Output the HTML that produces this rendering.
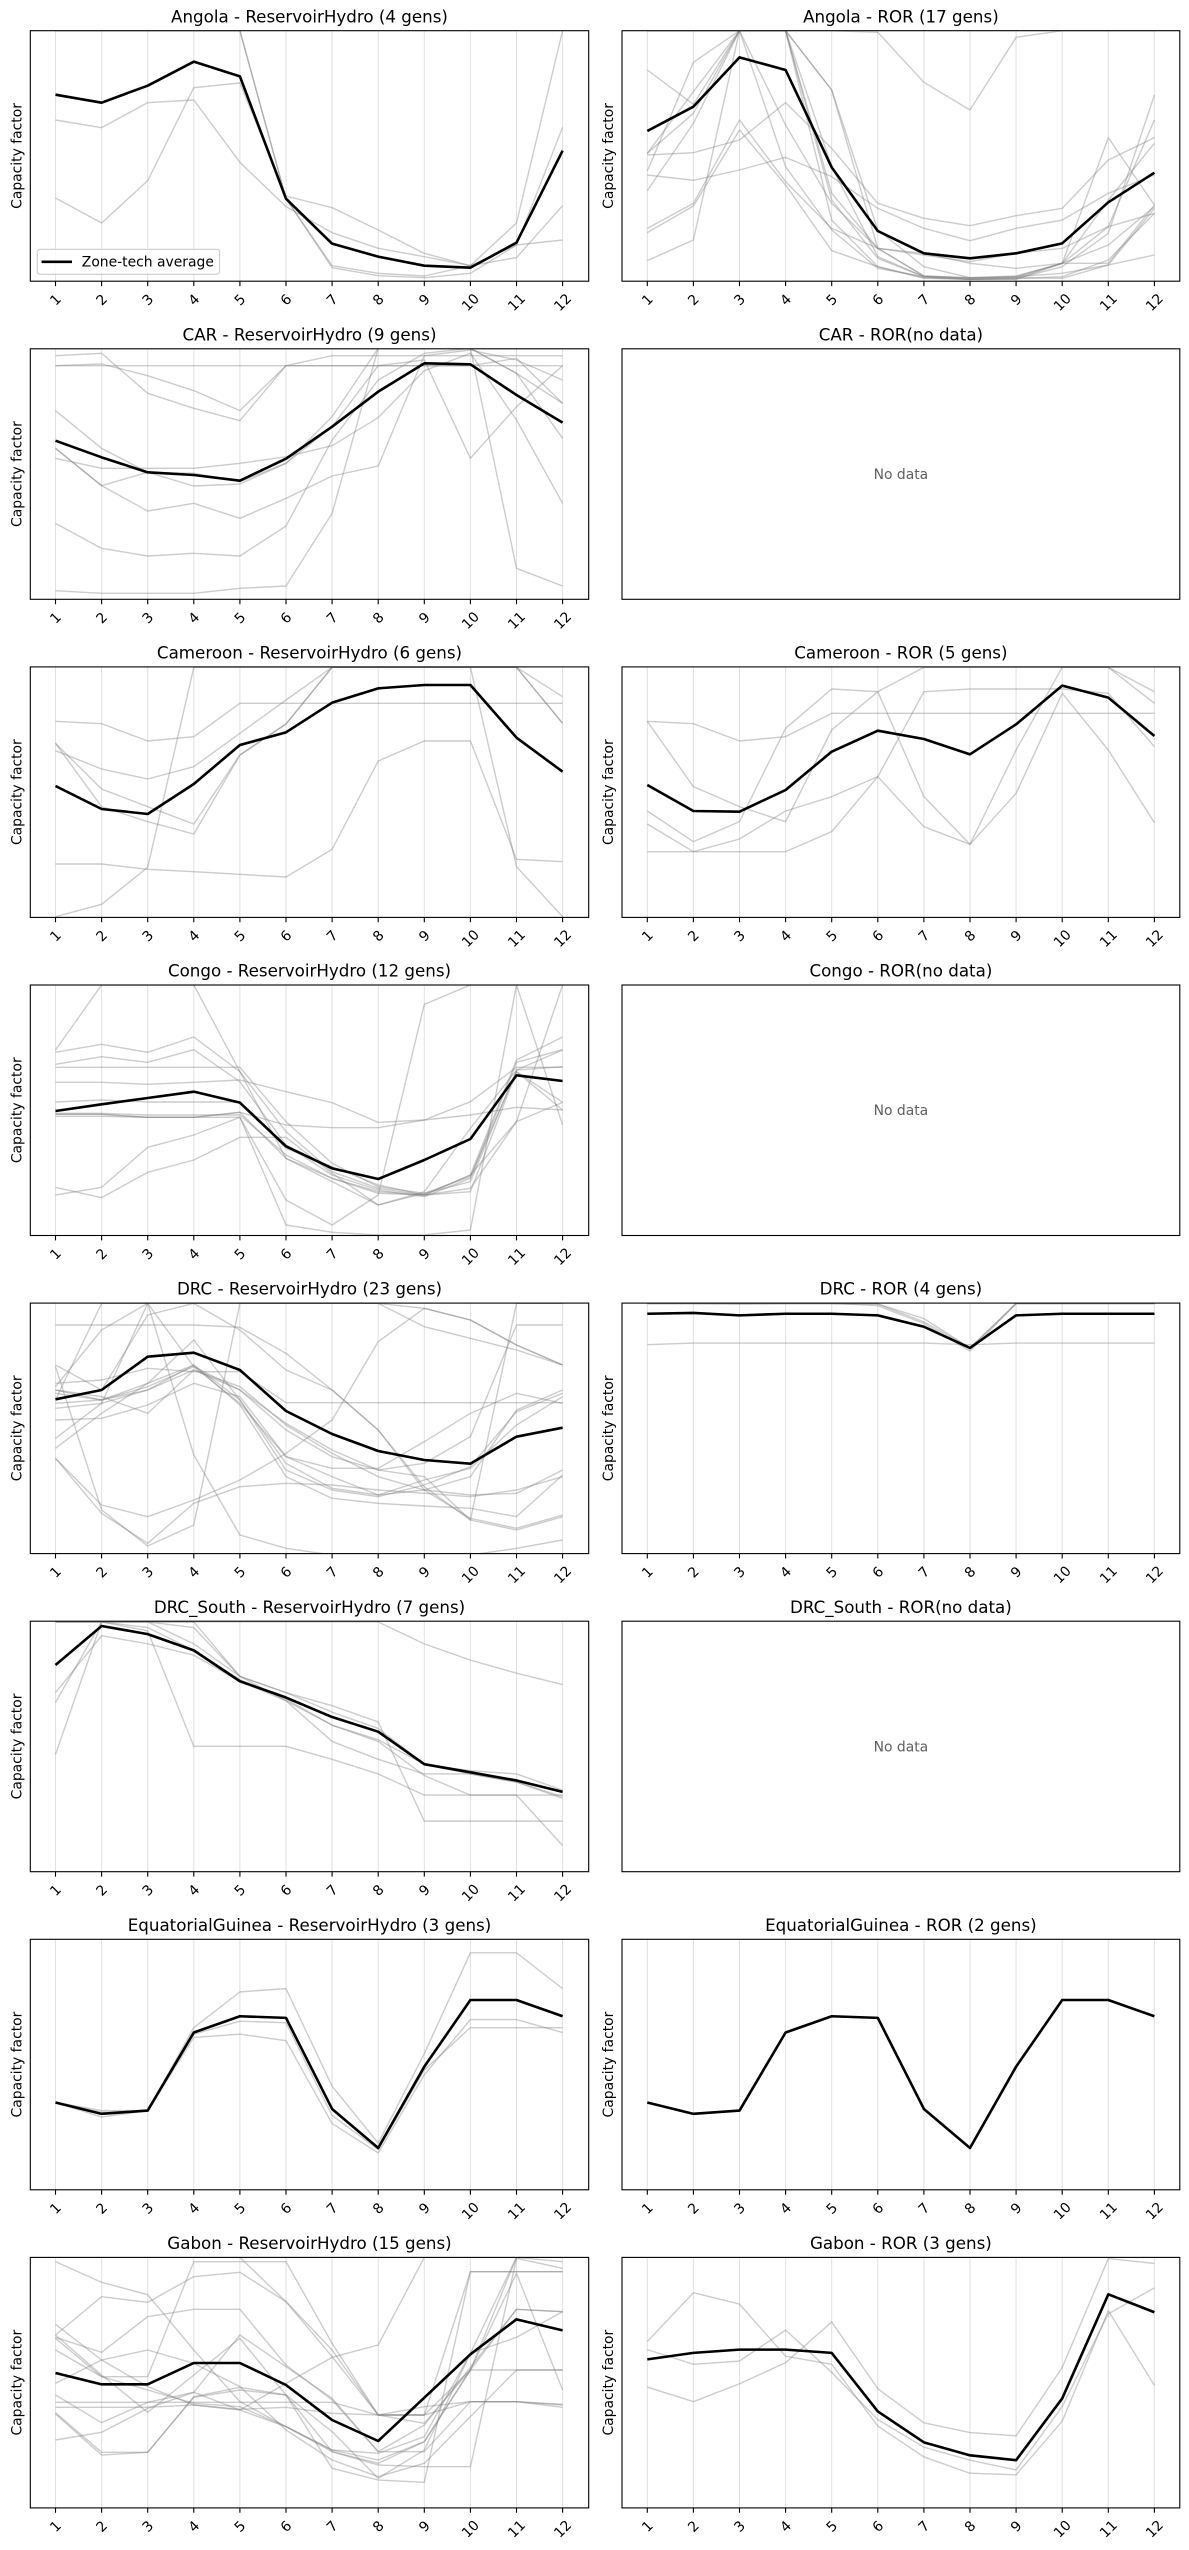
<!DOCTYPE html>
<html><head><meta charset="utf-8">
<style>
html,body{margin:0;padding:0;background:#fff}
svg{display:block}
text{font-family:"DejaVu Sans","Liberation Sans",sans-serif;fill:#000}
.t{font-size:16.7px;text-anchor:middle}
.yl{font-size:13.9px;text-anchor:middle}
.k text{font-size:13.9px;text-anchor:middle}
.nd{font-size:13.9px;text-anchor:middle;fill:#606060}
.g{fill:none;stroke:#808080;stroke-opacity:.4;stroke-width:1.4px;vector-effect:non-scaling-stroke;stroke-linejoin:round}
.b{fill:none;stroke:#000;stroke-width:2.6px;vector-effect:non-scaling-stroke;stroke-linejoin:round}
.ax{fill:none;stroke:#000;stroke-width:1.1px}
.gr{fill:none;stroke:#b0b0b0;stroke-opacity:.38;stroke-width:1px}
.tk{fill:none;stroke:#000;stroke-width:1.1px}
</style></head><body>
<svg width="1189" height="2550" viewBox="0 0 1189 2550" xmlns="http://www.w3.org/2000/svg">
<defs>
<path id="grid" class="gr" d="M0 0v250.5m46.1 -250.5v250.5m46.1 -250.5v250.5m46.1 -250.5v250.5m46.1 -250.5v250.5m46.1 -250.5v250.5m46.1 -250.5v250.5m46.1 -250.5v250.5m46.1 -250.5v250.5m46.1 -250.5v250.5m46.1 -250.5v250.5m46.1 -250.5v250.5"/>
<path id="tick" class="tk" d="M0 0v4.9m46.1 -4.9v4.9m46.1 -4.9v4.9m46.1 -4.9v4.9m46.1 -4.9v4.9m46.1 -4.9v4.9m46.1 -4.9v4.9m46.1 -4.9v4.9m46.1 -4.9v4.9m46.1 -4.9v4.9m46.1 -4.9v4.9m46.1 -4.9v4.9"/>
<clipPath id="c0l"><rect x="30.3" y="30.7" width="558.4" height="250.5"/></clipPath>
<clipPath id="c0r"><rect x="622" y="30.7" width="557.8" height="250.5"/></clipPath>
<clipPath id="c1l"><rect x="30.3" y="348.8" width="558.4" height="250.5"/></clipPath>
<clipPath id="c2l"><rect x="30.3" y="666.9" width="558.4" height="250.5"/></clipPath>
<clipPath id="c2r"><rect x="622" y="666.9" width="557.8" height="250.5"/></clipPath>
<clipPath id="c3l"><rect x="30.3" y="985" width="558.4" height="250.5"/></clipPath>
<clipPath id="c4l"><rect x="30.3" y="1303.1" width="558.4" height="250.5"/></clipPath>
<clipPath id="c4r"><rect x="622" y="1303.1" width="557.8" height="250.5"/></clipPath>
<clipPath id="c5l"><rect x="30.3" y="1621.2" width="558.4" height="250.5"/></clipPath>
<clipPath id="c6l"><rect x="30.3" y="1939.3" width="558.4" height="250.5"/></clipPath>
<clipPath id="c6r"><rect x="622" y="1939.3" width="557.8" height="250.5"/></clipPath>
<clipPath id="c7l"><rect x="30.3" y="2257.4" width="558.4" height="250.5"/></clipPath>
<clipPath id="c7r"><rect x="622" y="2257.4" width="557.8" height="250.5"/></clipPath>
</defs>

<!-- grids -->
<use href="#grid" x="55.5" y="30.7"/><use href="#grid" x="647.3" y="30.7"/>
<use href="#grid" x="55.5" y="348.8"/>
<use href="#grid" x="55.5" y="666.9"/><use href="#grid" x="647.3" y="666.9"/>
<use href="#grid" x="55.5" y="985"/>
<use href="#grid" x="55.5" y="1303.1"/><use href="#grid" x="647.3" y="1303.1"/>
<use href="#grid" x="55.5" y="1621.2"/>
<use href="#grid" x="55.5" y="1939.3"/><use href="#grid" x="647.3" y="1939.3"/>
<use href="#grid" x="55.5" y="2257.4"/><use href="#grid" x="647.3" y="2257.4"/>

<!-- Row 0 Left: Angola Reservoir -->
<g clip-path="url(#c0l)"><g transform="matrix(46.1 0 0 0.333333 9.4 0)">
<polyline class="g" points="1,360 2,383 3,308 4,300 5,487 6,620 7,698 8,745 9,770 10,797 11,773 12,617"/>
<polyline class="g" points="1,594 2,669 3,542 4,263 5,249 6,588 7,623 8,690 9,760 10,797 11,735 12,382"/>
<polyline class="g" points="1,92 2,92 3,92 4,92 5,92 6,596 7,797 8,820 9,828 10,797 11,669 12,92"/>
<polyline class="g" points="1,92 2,92 3,92 4,92 5,92 6,596 7,803 8,827 9,833 10,820 11,735 12,720"/>
<polyline class="b" points="1,284 2,308 3,257 4,185 5,229 6,596 7,731 8,770 9,797 10,803 11,728 12,452"/>
</g></g>

<!-- Row 0 Right: Angola ROR -->
<g clip-path="url(#c0r)"><g transform="matrix(46.1 0 0 0.333333 601.2 0)">
<polyline class="g" points="1,210 2,313 3,92 4,92 5,270 6,745 7,828 8,833 9,828 10,790 11,413 12,615"/>
<polyline class="g" points="1,460 2,275 3,92 4,92 5,270 6,690 7,800 8,833 9,833 10,790 11,790 12,615"/>
<polyline class="g" points="1,465 2,458 3,420 4,308 5,445 6,610 7,655 8,677 9,647 10,625 11,480 12,413"/>
<polyline class="g" points="1,525 2,541 3,510 4,472 5,530 6,625 7,685 8,722 9,685 10,660 11,580 12,525"/>
<polyline class="g" points="1,572 2,370 3,92 4,375 5,610 6,745 7,760 8,790 9,805 10,790 11,735 12,620"/>
<polyline class="g" points="1,513 2,187 3,92 4,500 5,690 6,805 7,830 8,833 9,830 10,820 11,795 12,625"/>
<polyline class="g" points="1,685 2,610 3,360 4,545 5,685 6,745 7,765 8,785 9,760 10,745 11,680 12,360"/>
<polyline class="g" points="1,698 2,618 3,390 4,555 5,752 6,800 7,835 8,838 9,836 10,830 11,780 12,640"/>
<polyline class="g" points="1,782 2,720 3,92 4,92 5,600 6,775 7,830 8,838 9,833 10,835 11,795 12,765"/>
<polyline class="g" points="1,92 2,92 3,92 4,92 5,92 6,97 7,247 8,330 9,112 10,92 11,92 12,92"/>
<polyline class="g" points="1,92 2,92 3,92 4,92 5,660 6,800 7,833 8,838 9,836 10,800 11,700 12,285"/>
<polyline class="g" points="1,460 2,340 3,92 4,92 5,580 6,745 7,828 8,835 9,830 10,790 11,600 12,430"/>
<polyline class="g" points="1,92 2,92 3,92 4,92 5,500 6,770 7,830 8,838 9,838 10,790 11,680 12,640"/>
<polyline class="b" points="1,393 2,320 3,172 4,210 5,502 6,693 7,760 8,775 9,760 10,730 11,607 12,518"/>
</g></g>

<!-- Row 1 Left: CAR Reservoir -->
<g clip-path="url(#c1l)"><g transform="matrix(46.1 0 0 0.333333 9.4 340)">
<polyline class="g" points="1,77 2,72 3,107 4,152 5,212 6,77 7,77 8,77 9,77 10,77 11,77 12,77"/>
<polyline class="g" points="1,47 2,40 3,160 4,205 5,242 6,77 7,47 8,47 9,47 10,47 11,47 12,47"/>
<polyline class="g" points="1,212 2,325 3,397 4,438 5,432 6,370 7,230 8,25 9,25 10,25 11,100 12,190"/>
<polyline class="g" points="1,325 2,437 3,513 4,490 5,535 6,475 7,408 8,378 9,47 10,30 11,60 12,120"/>
<polyline class="g" points="1,355 2,385 3,385 4,385 5,370 6,350 7,317 8,233 9,92 10,40 11,240 12,490"/>
<polyline class="g" points="1,550 2,625 3,648 4,640 5,648 6,558 7,300 8,120 9,40 10,25 11,100 12,295"/>
<polyline class="g" points="1,752 2,760 3,760 4,760 5,745 6,738 7,520 8,25 9,25 10,25 11,685 12,738"/>
<polyline class="g" points="1,325 2,437 3,397 4,400 5,425 6,370 7,260 8,77 9,60 10,355 11,200 12,77"/>
<polyline class="g" points="1,77 2,77 3,77 4,77 5,77 6,77 7,77 8,77 9,77 10,77 11,55 12,190"/>
<polyline class="b" points="1,302 2,352 3,397 4,405 5,422 6,356 7,260 8,155 9,70 10,73 11,165 12,248"/>
</g></g>

<!-- Row 2 Left: Cameroon Reservoir -->
<g clip-path="url(#c2l)"><g transform="matrix(46.1 0 0 0.333333 9.4 660)">
<polyline class="g" points="1,184 2,191 3,243 4,230 5,130 6,130 7,130 8,130 9,130 10,130 11,130 12,130"/>
<polyline class="g" points="1,250 2,387 3,440 4,492 5,285 6,192 7,22 8,22 9,22 10,22 11,22 12,110"/>
<polyline class="g" points="1,272 2,327 3,357 4,320 5,220 6,120 7,22 8,22 9,22 10,22 11,22 12,190"/>
<polyline class="g" points="1,612 2,612 3,628 4,635 5,643 6,651 7,568 8,303 9,243 10,243 11,598 12,605"/>
<polyline class="g" points="1,770 2,733 3,622 4,22 5,22 6,22 7,22 8,22 9,22 10,22 11,620 12,770"/>
<polyline class="g" points="1,250 2,440 3,485 4,522 5,285 6,192 7,22 8,22 9,22 10,22 11,22 12,190"/>
<polyline class="b" points="1,378 2,447 3,462 4,372 5,255 6,217 7,128 8,85 9,75 10,75 11,233 12,335"/>
</g></g>

<!-- Row 2 Right: Cameroon ROR -->
<g clip-path="url(#c2r)"><g transform="matrix(46.1 0 0 0.333333 601.2 660)">
<polyline class="g" points="1,184 2,191 3,243 4,230 5,160 6,160 7,160 8,160 9,160 10,160 11,160 12,160"/>
<polyline class="g" points="1,184 2,380 3,440 4,485 5,210 6,95 7,22 8,22 9,22 10,22 11,22 12,95"/>
<polyline class="g" points="1,453 2,545 3,485 4,205 5,87 6,95 7,410 8,553 9,270 10,22 11,22 12,130"/>
<polyline class="g" points="1,492 2,575 3,537 4,453 5,410 6,350 7,500 8,553 9,400 10,100 11,270 12,488"/>
<polyline class="g" points="1,575 2,575 3,575 4,575 5,515 6,350 7,95 8,87 9,87 10,87 11,100 12,260"/>
<polyline class="b" points="1,375 2,453 3,455 4,390 5,275 6,212 7,237 8,283 9,193 10,77 11,113 12,228"/>
</g></g>

<!-- Row 3 Left: Congo Reservoir -->
<g clip-path="url(#c3l)"><g transform="matrix(46.1 0 0 0.333333 9.4 975)">
<polyline class="g" points="1,225 2,30 3,30 4,30 5,290 6,550 7,620 8,690 9,655 10,605 11,290 12,382"/>
<polyline class="g" points="1,232 2,208 3,232 4,186 5,290 6,470 7,590 8,640 9,660 10,600 11,255 12,186"/>
<polyline class="g" points="1,268 2,245 3,262 4,224 5,320 6,510 7,600 8,645 9,665 10,610 11,262 12,224"/>
<polyline class="g" points="1,277 2,277 3,277 4,277 5,277 6,440 7,565 8,635 9,655 10,620 11,285 12,275"/>
<polyline class="g" points="1,322 2,322 3,328 4,322 5,315 6,350 7,383 8,442 9,435 10,380 11,277 12,277"/>
<polyline class="g" points="1,381 2,375 3,381 4,381 5,381 6,520 7,575 8,630 9,660 10,650 11,290 12,405"/>
<polyline class="g" points="1,418 2,418 3,427 4,427 5,412 6,450 7,458 8,458 9,435 10,420 11,397 12,405"/>
<polyline class="g" points="1,424 2,424 3,427 4,427 5,427 6,675 7,750 8,660 9,88 10,30 11,30 12,30"/>
<polyline class="g" points="1,637 2,668 3,592 4,555 5,487 6,487 7,595 8,690 9,650 10,460 11,285 12,225"/>
<polyline class="g" points="1,660 2,637 3,517 4,480 5,427 6,750 7,772 8,780 9,780 10,765 11,30 12,450"/>
<polyline class="g" points="1,418 2,418 3,427 4,427 5,412 6,550 7,610 8,650 9,660 10,640 11,440 12,382"/>
<polyline class="g" points="1,415 2,415 3,420 4,420 5,420 6,540 7,610 8,655 9,660 10,600 11,440 12,30"/>
<polyline class="b" points="1,408 2,388 3,369 4,350 5,383 6,514 7,580 8,612 9,555 10,492 11,301 12,318"/>
</g></g>

<!-- Row 4 Left: DRC Reservoir -->
<g clip-path="url(#c4l)"><g transform="matrix(46.1 0 0 0.333333 9.4 1290)">
<polyline class="g" points="1,105 2,105 3,105 4,105 5,112 6,190 7,300 8,420 9,590 10,690 11,720 12,680"/>
<polyline class="g" points="1,280 2,270 3,235 4,245 5,245 6,338 7,338 8,338 9,338 10,338 11,338 12,338"/>
<polyline class="g" points="1,225 2,300 3,75 4,40 5,120 6,240 7,300 8,420 9,600 10,685 11,715 12,675"/>
<polyline class="g" points="1,445 2,340 3,40 4,495 5,735 6,775 7,795 8,795 9,795 10,795 11,775 12,750"/>
<polyline class="g" points="1,230 2,660 3,768 4,705 5,40 6,40 7,40 8,40 9,55 10,90 11,165 12,225"/>
<polyline class="g" points="1,290 2,120 3,40 4,230 5,340 6,500 7,560 8,615 9,600 10,560 11,360 12,300"/>
<polyline class="g" points="1,475 2,370 3,280 4,150 5,330 6,520 7,595 8,615 9,570 10,535 11,405 12,320"/>
<polyline class="g" points="1,355 2,340 3,300 4,225 5,330 6,540 7,600 8,620 9,585 10,530 11,365 12,310"/>
<polyline class="g" points="1,390 2,385 3,345 4,280 5,320 6,500 7,535 8,535 9,455 10,370 11,310 12,340"/>
<polyline class="g" points="1,300 2,320 3,370 4,240 5,290 6,405 7,490 8,560 9,600 10,615 11,610 12,540"/>
<polyline class="g" points="1,310 2,330 3,280 4,225 5,345 6,560 7,625 8,640 9,648 10,655 11,680 12,555"/>
<polyline class="g" points="1,330 2,40 3,40 4,40 5,40 6,40 7,40 8,40 9,110 10,145 11,180 12,225"/>
<polyline class="g" points="1,505 2,645 3,680 4,630 5,570 6,490 7,390 8,155 9,55 10,90 11,165 12,225"/>
<polyline class="g" points="1,300 2,330 3,300 4,240 5,300 6,420 7,500 8,540 9,520 10,440 11,105 12,105"/>
<polyline class="g" points="1,340 2,330 3,290 4,230 5,300 6,400 7,480 8,540 9,560 10,690 11,40 12,40"/>
<polyline class="g" points="1,505 2,670 3,760 4,640 5,590 6,580 7,585 8,600 9,610 10,620 11,600 12,560"/>
<polyline class="b" points="1,328 2,300 3,200 4,188 5,240 6,363 7,432 8,483 9,510 10,521 11,440 12,413"/>
</g></g>

<!-- Row 4 Right: DRC ROR -->
<g clip-path="url(#c4r)"><g transform="matrix(46.1 0 0 1.6262 601.2 1.4)">
<polyline class="g" points="1,826 2,825 3,825 4,825 5,825 6,825 7,825 8,826 9,825 10,825 11,825 12,825"/>
<polyline class="g" points="1,801 2,801 3,801 4,801 5,801 6,801 7,810 8,828 9,801 10,801 11,801 12,801"/>
<polyline class="g" points="1,800.6 2,800.6 3,800.6 4,800.6 5,800.6 6,801 7,812 8,828 9,800.6 10,800.6 11,800.6 12,800.6"/>
<polyline class="g" points="1,800.6 2,800.6 3,801 4,800.6 5,800.6 6,802 7,813 8,830 9,800.6 10,800.6 11,800.6 12,800.6"/>
<polyline class="b" points="1,807 2,806.5 3,808 4,807 5,807 6,808 7,815 8,828 9,808 10,807 11,807 12,807"/>
</g></g>

<!-- Row 5 Left: DRC_South Reservoir -->
<g clip-path="url(#c5l)"><g transform="matrix(46.1 0 0 1.6262 9.4 1.4)">
<polyline class="g" points="1,1078 2,996.5 3,996.5 4,1010 5,1030 6,1040 7,1052 8,1062 9,1084 10,1090 11,1095 12,1104"/>
<polyline class="g" points="1,1046 2,996.5 3,1000 4,1014 5,1032 6,1044 7,1060 8,1070 9,1091 10,1103 11,1103 12,1134"/>
<polyline class="g" points="1,996.5 2,996.5 3,1002 4,1073 5,1073 6,1073 7,1081 8,1090 9,1103 10,1103 11,1103 12,1103"/>
<polyline class="g" points="1,996.5 2,996.5 3,996.5 4,996.5 5,1030 6,1040 7,1048 8,1058 9,1119 10,1119 11,1119 12,1119"/>
<polyline class="g" points="1,996.5 2,996.5 3,996.5 4,996.5 5,996.5 6,996.5 7,996.5 8,996.5 9,1010 10,1020 11,1028 12,1035"/>
<polyline class="g" points="1,1040 2,1005 3,1010 4,1017 5,1033 6,1045 7,1060 8,1069 9,1084 10,1088 11,1090 12,1100"/>
<polyline class="g" points="1,996.5 2,996.5 3,996.5 4,1000 5,1030 6,1045 7,1070 8,1081 9,1090 10,1090 11,1095 12,1105"/>
<polyline class="b" points="1,1023 2,999 3,1004 4,1014 5,1033 6,1043 7,1055 8,1064 9,1084 10,1089 11,1094 12,1101"/>
</g></g>

<!-- Row 6 Left: EquatorialGuinea Reservoir -->
<g clip-path="url(#c6l)"><g transform="matrix(46.1 0 0 1.6262 9.4 1.4)">
<polyline class="g" points="1,1292 2,1301 3,1297 4,1246 5,1224 6,1222 7,1282 8,1317 9,1262 10,1200 11,1200 12,1222"/>
<polyline class="g" points="1,1292 2,1298 3,1297 4,1250 5,1242 6,1243 7,1300 8,1321 9,1272 10,1246 11,1246 12,1246"/>
<polyline class="g" points="1,1292 2,1297 3,1297 4,1252 5,1250 6,1254 7,1305 8,1323 9,1275 10,1241 11,1241 12,1249"/>
<polyline class="b" points="1,1292 2,1299 3,1297 4,1249 5,1239 6,1240 7,1296 8,1320 9,1270 10,1229 11,1229 12,1239"/>
</g></g>

<!-- Row 6 Right: EquatorialGuinea ROR -->
<g clip-path="url(#c6r)"><g transform="matrix(46.1 0 0 1.6262 601.2 1.4)">
<polyline class="g" points="1,1292 2,1299 3,1297 4,1249 5,1239 6,1240 7,1296 8,1320 9,1270 10,1229 11,1229 12,1239"/>
<polyline class="g" points="1,1292 2,1299 3,1297 4,1249 5,1239 6,1240 7,1296 8,1320 9,1270 10,1229 11,1229 12,1239"/>
<polyline class="b" points="1,1292 2,1299 3,1297 4,1249 5,1239 6,1240 7,1296 8,1320 9,1270 10,1229 11,1229 12,1239"/>
</g></g>

<!-- Row 7 Left: Gabon Reservoir -->
<g clip-path="url(#c7l)"><g transform="matrix(46.1 0 0 0.333333 9.4 2250)">
<polyline class="g" points="1,35 2,97 3,134 4,300 5,455 6,530 7,600 8,630 9,575 10,360 11,22 12,35"/>
<polyline class="g" points="1,255 2,140 3,157 4,80 5,67 6,155 7,300 8,495 9,495 10,360 11,360 12,360"/>
<polyline class="g" points="1,262 2,307 3,200 4,178 5,178 6,345 7,450 8,605 9,605 10,455 11,455 12,463"/>
<polyline class="g" points="1,265 2,380 3,380 4,35 5,35 6,35 7,280 8,495 9,495 10,65 11,65 12,65"/>
<polyline class="g" points="1,435 2,518 3,457 4,427 5,480 6,400 7,322 8,285 9,22 10,22 11,22 12,22"/>
<polyline class="g" points="1,457 2,457 3,457 4,457 5,457 6,457 7,457 8,495 9,495 10,455 11,455 12,465"/>
<polyline class="g" points="1,472 2,472 3,472 4,465 5,478 6,472 7,490 8,495 9,470 10,455 11,455 12,472"/>
<polyline class="g" points="1,488 2,607 3,607 4,440 5,412 6,435 7,605 8,640 9,575 10,360 11,70 12,420"/>
<polyline class="g" points="1,492 2,615 3,607 4,442 5,420 6,435 7,545 8,685 9,600 10,310 11,262 12,185"/>
<polyline class="g" points="1,570 2,547 3,475 4,427 5,255 6,350 7,445 8,605 9,525 10,352 11,178 12,185"/>
<polyline class="g" points="1,223 2,330 3,410 4,465 5,480 6,530 7,605 8,645 9,650 10,650 11,25 12,55"/>
<polyline class="g" points="1,255 2,375 3,487 4,375 5,265 6,435 7,655 8,690 9,697 10,65 11,65 12,65"/>
<polyline class="g" points="1,22 2,22 3,22 4,22 5,22 6,155 7,320 8,495 9,520 10,360 11,178 12,185"/>
<polyline class="g" points="1,400 2,330 3,300 4,340 5,410 6,540 7,630 8,680 9,640 10,500 11,360 12,360"/>
<polyline class="g" points="1,300 2,380 3,420 4,460 5,470 6,530 7,600 8,610 9,560 10,310 11,22 12,22"/>
<polyline class="b" points="1,369 2,403 3,403 4,339 5,339 6,405 7,510 8,573 9,443 10,313 11,208 12,241"/>
</g></g>

<!-- Row 7 Right: Gabon ROR -->
<g clip-path="url(#c7r)"><g transform="matrix(46.1 0 0 1.6262 601.2 1.4)">
<polyline class="g" points="1,1439 2,1409 3,1416 4,1448 5,1453 6,1491 7,1510 8,1520 9,1521 10,1488 11,1420 12,1466"/>
<polyline class="g" points="1,1467 2,1476 3,1465 4,1452 5,1427 6,1468 7,1489 8,1495 9,1497 10,1455 11,1388 12,1391"/>
<polyline class="g" points="1,1444 2,1453 3,1451 4,1432 5,1458 6,1487 7,1504 8,1512 9,1518 10,1479 11,1422 12,1406"/>
<polyline class="b" points="1,1450 2,1446 3,1444 4,1444 5,1446 6,1482 7,1501 8,1509 9,1512 10,1474 11,1410 12,1421"/>
</g></g>

<!-- axes frames -->
<rect class="ax" x="30.3" y="30.7" width="558.4" height="250.5"/><rect class="ax" x="622" y="30.7" width="557.8" height="250.5"/>
<rect class="ax" x="30.3" y="348.8" width="558.4" height="250.5"/><rect class="ax" x="622" y="348.8" width="557.8" height="250.5"/>
<rect class="ax" x="30.3" y="666.9" width="558.4" height="250.5"/><rect class="ax" x="622" y="666.9" width="557.8" height="250.5"/>
<rect class="ax" x="30.3" y="985" width="558.4" height="250.5"/><rect class="ax" x="622" y="985" width="557.8" height="250.5"/>
<rect class="ax" x="30.3" y="1303.1" width="558.4" height="250.5"/><rect class="ax" x="622" y="1303.1" width="557.8" height="250.5"/>
<rect class="ax" x="30.3" y="1621.2" width="558.4" height="250.5"/><rect class="ax" x="622" y="1621.2" width="557.8" height="250.5"/>
<rect class="ax" x="30.3" y="1939.3" width="558.4" height="250.5"/><rect class="ax" x="622" y="1939.3" width="557.8" height="250.5"/>
<rect class="ax" x="30.3" y="2257.4" width="558.4" height="250.5"/><rect class="ax" x="622" y="2257.4" width="557.8" height="250.5"/>

<!-- tick marks -->
<use href="#tick" x="55.5" y="281.2"/><use href="#tick" x="647.3" y="281.2"/>
<use href="#tick" x="55.5" y="599.3"/>
<use href="#tick" x="55.5" y="917.4"/><use href="#tick" x="647.3" y="917.4"/>
<use href="#tick" x="55.5" y="1235.5"/>
<use href="#tick" x="55.5" y="1553.6"/><use href="#tick" x="647.3" y="1553.6"/>
<use href="#tick" x="55.5" y="1871.7"/>
<use href="#tick" x="55.5" y="2189.8"/><use href="#tick" x="647.3" y="2189.8"/>
<use href="#tick" x="55.5" y="2507.9"/><use href="#tick" x="647.3" y="2507.9"/>

<!-- titles -->
<text class="t" x="309.5" y="22.3">Angola - ReservoirHydro (4 gens)</text>
<text class="t" x="900.9" y="22.3">Angola - ROR (17 gens)</text>
<text class="t" x="309.5" y="340.4">CAR - ReservoirHydro (9 gens)</text>
<text class="t" x="900.9" y="340.4">CAR - ROR(no data)</text>
<text class="t" x="309.5" y="658.5">Cameroon - ReservoirHydro (6 gens)</text>
<text class="t" x="900.9" y="658.5">Cameroon - ROR (5 gens)</text>
<text class="t" x="309.5" y="976.6">Congo - ReservoirHydro (12 gens)</text>
<text class="t" x="900.9" y="976.6">Congo - ROR(no data)</text>
<text class="t" x="309.5" y="1294.7">DRC - ReservoirHydro (23 gens)</text>
<text class="t" x="900.9" y="1294.7">DRC - ROR (4 gens)</text>
<text class="t" x="309.5" y="1612.8">DRC_South - ReservoirHydro (7 gens)</text>
<text class="t" x="900.9" y="1612.8">DRC_South - ROR(no data)</text>
<text class="t" x="309.5" y="1930.9">EquatorialGuinea - ReservoirHydro (3 gens)</text>
<text class="t" x="900.9" y="1930.9">EquatorialGuinea - ROR (2 gens)</text>
<text class="t" x="309.5" y="2249">Gabon - ReservoirHydro (15 gens)</text>
<text class="t" x="900.9" y="2249">Gabon - ROR (3 gens)</text>

<!-- y labels -->
<text class="yl" transform="translate(21.4 155.95) rotate(-90)">Capacity factor</text>
<text class="yl" transform="translate(613.1 155.95) rotate(-90)">Capacity factor</text>
<text class="yl" transform="translate(21.4 474.05) rotate(-90)">Capacity factor</text>
<text class="yl" transform="translate(21.4 792.15) rotate(-90)">Capacity factor</text>
<text class="yl" transform="translate(613.1 792.15) rotate(-90)">Capacity factor</text>
<text class="yl" transform="translate(21.4 1110.25) rotate(-90)">Capacity factor</text>
<text class="yl" transform="translate(21.4 1428.35) rotate(-90)">Capacity factor</text>
<text class="yl" transform="translate(613.1 1428.35) rotate(-90)">Capacity factor</text>
<text class="yl" transform="translate(21.4 1746.45) rotate(-90)">Capacity factor</text>
<text class="yl" transform="translate(21.4 2064.55) rotate(-90)">Capacity factor</text>
<text class="yl" transform="translate(613.1 2064.55) rotate(-90)">Capacity factor</text>
<text class="yl" transform="translate(21.4 2382.65) rotate(-90)">Capacity factor</text>
<text class="yl" transform="translate(613.1 2382.65) rotate(-90)">Capacity factor</text>

<!-- No data -->
<text class="nd" x="900.9" y="478.85">No data</text>
<text class="nd" x="900.9" y="1115.05">No data</text>
<text class="nd" x="900.9" y="1751.25">No data</text>

<!-- tick labels -->
<g class="k" transform="translate(0 281.2)">
<text transform="translate(55.5 18.5) rotate(-45)" dy="4.8">1</text><text transform="translate(101.6 18.5) rotate(-45)" dy="4.8">2</text><text transform="translate(147.7 18.5) rotate(-45)" dy="4.8">3</text><text transform="translate(193.8 18.5) rotate(-45)" dy="4.8">4</text><text transform="translate(239.9 18.5) rotate(-45)" dy="4.8">5</text><text transform="translate(286 18.5) rotate(-45)" dy="4.8">6</text><text transform="translate(332.1 18.5) rotate(-45)" dy="4.8">7</text><text transform="translate(378.2 18.5) rotate(-45)" dy="4.8">8</text><text transform="translate(424.3 18.5) rotate(-45)" dy="4.8">9</text><text transform="translate(470.4 21) rotate(-45)" dy="4.8">10</text><text transform="translate(516.5 21) rotate(-45)" dy="4.8">11</text><text transform="translate(562.6 21) rotate(-45)" dy="4.8">12</text>
</g>
<g class="k" transform="translate(591.8 281.2)">
<text transform="translate(55.5 18.5) rotate(-45)" dy="4.8">1</text><text transform="translate(101.6 18.5) rotate(-45)" dy="4.8">2</text><text transform="translate(147.7 18.5) rotate(-45)" dy="4.8">3</text><text transform="translate(193.8 18.5) rotate(-45)" dy="4.8">4</text><text transform="translate(239.9 18.5) rotate(-45)" dy="4.8">5</text><text transform="translate(286 18.5) rotate(-45)" dy="4.8">6</text><text transform="translate(332.1 18.5) rotate(-45)" dy="4.8">7</text><text transform="translate(378.2 18.5) rotate(-45)" dy="4.8">8</text><text transform="translate(424.3 18.5) rotate(-45)" dy="4.8">9</text><text transform="translate(470.4 21) rotate(-45)" dy="4.8">10</text><text transform="translate(516.5 21) rotate(-45)" dy="4.8">11</text><text transform="translate(562.6 21) rotate(-45)" dy="4.8">12</text>
</g>
<g class="k" transform="translate(0 599.3)">
<text transform="translate(55.5 18.5) rotate(-45)" dy="4.8">1</text><text transform="translate(101.6 18.5) rotate(-45)" dy="4.8">2</text><text transform="translate(147.7 18.5) rotate(-45)" dy="4.8">3</text><text transform="translate(193.8 18.5) rotate(-45)" dy="4.8">4</text><text transform="translate(239.9 18.5) rotate(-45)" dy="4.8">5</text><text transform="translate(286 18.5) rotate(-45)" dy="4.8">6</text><text transform="translate(332.1 18.5) rotate(-45)" dy="4.8">7</text><text transform="translate(378.2 18.5) rotate(-45)" dy="4.8">8</text><text transform="translate(424.3 18.5) rotate(-45)" dy="4.8">9</text><text transform="translate(470.4 21) rotate(-45)" dy="4.8">10</text><text transform="translate(516.5 21) rotate(-45)" dy="4.8">11</text><text transform="translate(562.6 21) rotate(-45)" dy="4.8">12</text>
</g>
<g class="k" transform="translate(0 917.4)">
<text transform="translate(55.5 18.5) rotate(-45)" dy="4.8">1</text><text transform="translate(101.6 18.5) rotate(-45)" dy="4.8">2</text><text transform="translate(147.7 18.5) rotate(-45)" dy="4.8">3</text><text transform="translate(193.8 18.5) rotate(-45)" dy="4.8">4</text><text transform="translate(239.9 18.5) rotate(-45)" dy="4.8">5</text><text transform="translate(286 18.5) rotate(-45)" dy="4.8">6</text><text transform="translate(332.1 18.5) rotate(-45)" dy="4.8">7</text><text transform="translate(378.2 18.5) rotate(-45)" dy="4.8">8</text><text transform="translate(424.3 18.5) rotate(-45)" dy="4.8">9</text><text transform="translate(470.4 21) rotate(-45)" dy="4.8">10</text><text transform="translate(516.5 21) rotate(-45)" dy="4.8">11</text><text transform="translate(562.6 21) rotate(-45)" dy="4.8">12</text>
</g>
<g class="k" transform="translate(591.8 917.4)">
<text transform="translate(55.5 18.5) rotate(-45)" dy="4.8">1</text><text transform="translate(101.6 18.5) rotate(-45)" dy="4.8">2</text><text transform="translate(147.7 18.5) rotate(-45)" dy="4.8">3</text><text transform="translate(193.8 18.5) rotate(-45)" dy="4.8">4</text><text transform="translate(239.9 18.5) rotate(-45)" dy="4.8">5</text><text transform="translate(286 18.5) rotate(-45)" dy="4.8">6</text><text transform="translate(332.1 18.5) rotate(-45)" dy="4.8">7</text><text transform="translate(378.2 18.5) rotate(-45)" dy="4.8">8</text><text transform="translate(424.3 18.5) rotate(-45)" dy="4.8">9</text><text transform="translate(470.4 21) rotate(-45)" dy="4.8">10</text><text transform="translate(516.5 21) rotate(-45)" dy="4.8">11</text><text transform="translate(562.6 21) rotate(-45)" dy="4.8">12</text>
</g>
<g class="k" transform="translate(0 1235.5)">
<text transform="translate(55.5 18.5) rotate(-45)" dy="4.8">1</text><text transform="translate(101.6 18.5) rotate(-45)" dy="4.8">2</text><text transform="translate(147.7 18.5) rotate(-45)" dy="4.8">3</text><text transform="translate(193.8 18.5) rotate(-45)" dy="4.8">4</text><text transform="translate(239.9 18.5) rotate(-45)" dy="4.8">5</text><text transform="translate(286 18.5) rotate(-45)" dy="4.8">6</text><text transform="translate(332.1 18.5) rotate(-45)" dy="4.8">7</text><text transform="translate(378.2 18.5) rotate(-45)" dy="4.8">8</text><text transform="translate(424.3 18.5) rotate(-45)" dy="4.8">9</text><text transform="translate(470.4 21) rotate(-45)" dy="4.8">10</text><text transform="translate(516.5 21) rotate(-45)" dy="4.8">11</text><text transform="translate(562.6 21) rotate(-45)" dy="4.8">12</text>
</g>
<g class="k" transform="translate(0 1553.6)">
<text transform="translate(55.5 18.5) rotate(-45)" dy="4.8">1</text><text transform="translate(101.6 18.5) rotate(-45)" dy="4.8">2</text><text transform="translate(147.7 18.5) rotate(-45)" dy="4.8">3</text><text transform="translate(193.8 18.5) rotate(-45)" dy="4.8">4</text><text transform="translate(239.9 18.5) rotate(-45)" dy="4.8">5</text><text transform="translate(286 18.5) rotate(-45)" dy="4.8">6</text><text transform="translate(332.1 18.5) rotate(-45)" dy="4.8">7</text><text transform="translate(378.2 18.5) rotate(-45)" dy="4.8">8</text><text transform="translate(424.3 18.5) rotate(-45)" dy="4.8">9</text><text transform="translate(470.4 21) rotate(-45)" dy="4.8">10</text><text transform="translate(516.5 21) rotate(-45)" dy="4.8">11</text><text transform="translate(562.6 21) rotate(-45)" dy="4.8">12</text>
</g>
<g class="k" transform="translate(591.8 1553.6)">
<text transform="translate(55.5 18.5) rotate(-45)" dy="4.8">1</text><text transform="translate(101.6 18.5) rotate(-45)" dy="4.8">2</text><text transform="translate(147.7 18.5) rotate(-45)" dy="4.8">3</text><text transform="translate(193.8 18.5) rotate(-45)" dy="4.8">4</text><text transform="translate(239.9 18.5) rotate(-45)" dy="4.8">5</text><text transform="translate(286 18.5) rotate(-45)" dy="4.8">6</text><text transform="translate(332.1 18.5) rotate(-45)" dy="4.8">7</text><text transform="translate(378.2 18.5) rotate(-45)" dy="4.8">8</text><text transform="translate(424.3 18.5) rotate(-45)" dy="4.8">9</text><text transform="translate(470.4 21) rotate(-45)" dy="4.8">10</text><text transform="translate(516.5 21) rotate(-45)" dy="4.8">11</text><text transform="translate(562.6 21) rotate(-45)" dy="4.8">12</text>
</g>
<g class="k" transform="translate(0 1871.7)">
<text transform="translate(55.5 18.5) rotate(-45)" dy="4.8">1</text><text transform="translate(101.6 18.5) rotate(-45)" dy="4.8">2</text><text transform="translate(147.7 18.5) rotate(-45)" dy="4.8">3</text><text transform="translate(193.8 18.5) rotate(-45)" dy="4.8">4</text><text transform="translate(239.9 18.5) rotate(-45)" dy="4.8">5</text><text transform="translate(286 18.5) rotate(-45)" dy="4.8">6</text><text transform="translate(332.1 18.5) rotate(-45)" dy="4.8">7</text><text transform="translate(378.2 18.5) rotate(-45)" dy="4.8">8</text><text transform="translate(424.3 18.5) rotate(-45)" dy="4.8">9</text><text transform="translate(470.4 21) rotate(-45)" dy="4.8">10</text><text transform="translate(516.5 21) rotate(-45)" dy="4.8">11</text><text transform="translate(562.6 21) rotate(-45)" dy="4.8">12</text>
</g>
<g class="k" transform="translate(0 2189.8)">
<text transform="translate(55.5 18.5) rotate(-45)" dy="4.8">1</text><text transform="translate(101.6 18.5) rotate(-45)" dy="4.8">2</text><text transform="translate(147.7 18.5) rotate(-45)" dy="4.8">3</text><text transform="translate(193.8 18.5) rotate(-45)" dy="4.8">4</text><text transform="translate(239.9 18.5) rotate(-45)" dy="4.8">5</text><text transform="translate(286 18.5) rotate(-45)" dy="4.8">6</text><text transform="translate(332.1 18.5) rotate(-45)" dy="4.8">7</text><text transform="translate(378.2 18.5) rotate(-45)" dy="4.8">8</text><text transform="translate(424.3 18.5) rotate(-45)" dy="4.8">9</text><text transform="translate(470.4 21) rotate(-45)" dy="4.8">10</text><text transform="translate(516.5 21) rotate(-45)" dy="4.8">11</text><text transform="translate(562.6 21) rotate(-45)" dy="4.8">12</text>
</g>
<g class="k" transform="translate(591.8 2189.8)">
<text transform="translate(55.5 18.5) rotate(-45)" dy="4.8">1</text><text transform="translate(101.6 18.5) rotate(-45)" dy="4.8">2</text><text transform="translate(147.7 18.5) rotate(-45)" dy="4.8">3</text><text transform="translate(193.8 18.5) rotate(-45)" dy="4.8">4</text><text transform="translate(239.9 18.5) rotate(-45)" dy="4.8">5</text><text transform="translate(286 18.5) rotate(-45)" dy="4.8">6</text><text transform="translate(332.1 18.5) rotate(-45)" dy="4.8">7</text><text transform="translate(378.2 18.5) rotate(-45)" dy="4.8">8</text><text transform="translate(424.3 18.5) rotate(-45)" dy="4.8">9</text><text transform="translate(470.4 21) rotate(-45)" dy="4.8">10</text><text transform="translate(516.5 21) rotate(-45)" dy="4.8">11</text><text transform="translate(562.6 21) rotate(-45)" dy="4.8">12</text>
</g>
<g class="k" transform="translate(0 2507.9)">
<text transform="translate(55.5 18.5) rotate(-45)" dy="4.8">1</text><text transform="translate(101.6 18.5) rotate(-45)" dy="4.8">2</text><text transform="translate(147.7 18.5) rotate(-45)" dy="4.8">3</text><text transform="translate(193.8 18.5) rotate(-45)" dy="4.8">4</text><text transform="translate(239.9 18.5) rotate(-45)" dy="4.8">5</text><text transform="translate(286 18.5) rotate(-45)" dy="4.8">6</text><text transform="translate(332.1 18.5) rotate(-45)" dy="4.8">7</text><text transform="translate(378.2 18.5) rotate(-45)" dy="4.8">8</text><text transform="translate(424.3 18.5) rotate(-45)" dy="4.8">9</text><text transform="translate(470.4 21) rotate(-45)" dy="4.8">10</text><text transform="translate(516.5 21) rotate(-45)" dy="4.8">11</text><text transform="translate(562.6 21) rotate(-45)" dy="4.8">12</text>
</g>
<g class="k" transform="translate(591.8 2507.9)">
<text transform="translate(55.5 18.5) rotate(-45)" dy="4.8">1</text><text transform="translate(101.6 18.5) rotate(-45)" dy="4.8">2</text><text transform="translate(147.7 18.5) rotate(-45)" dy="4.8">3</text><text transform="translate(193.8 18.5) rotate(-45)" dy="4.8">4</text><text transform="translate(239.9 18.5) rotate(-45)" dy="4.8">5</text><text transform="translate(286 18.5) rotate(-45)" dy="4.8">6</text><text transform="translate(332.1 18.5) rotate(-45)" dy="4.8">7</text><text transform="translate(378.2 18.5) rotate(-45)" dy="4.8">8</text><text transform="translate(424.3 18.5) rotate(-45)" dy="4.8">9</text><text transform="translate(470.4 21) rotate(-45)" dy="4.8">10</text><text transform="translate(516.5 21) rotate(-45)" dy="4.8">11</text><text transform="translate(562.6 21) rotate(-45)" dy="4.8">12</text>
</g>

<!-- legend -->
<rect x="37.3" y="249.3" width="182.3" height="25" rx="2.8" fill="#fff" fill-opacity="0.8" stroke="#cccccc" stroke-width="1.1"/>
<line x1="42.9" y1="261.8" x2="70.7" y2="261.8" stroke="#000" stroke-width="2.6" stroke-linecap="square"/>
<text x="81.8" y="266.6" font-size="13.9">Zone-tech average</text>
</svg>
</body></html>
